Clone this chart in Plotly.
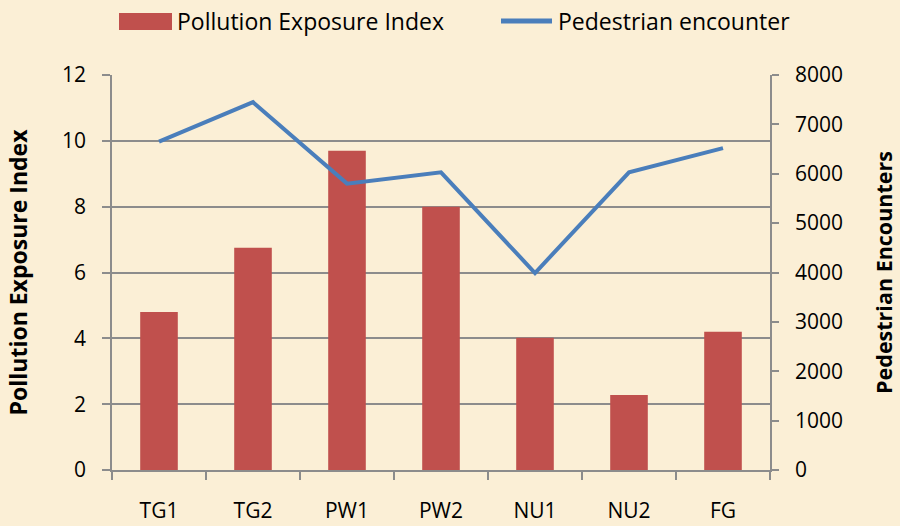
import plotly.graph_objects as go

categories = ["TG1", "TG2", "PW1", "PW2", "NU1", "NU2", "FG"]
pollution_index = [4.8, 6.75, 9.7, 8.0, 4.02, 2.28, 4.2]
pedestrian = [6650, 7450, 5800, 6030, 3990, 6030, 6520]
left_ticks = [0, 2, 4, 6, 8, 10, 12]
right_ticks = [0, 1000, 2000, 3000, 4000, 5000, 6000, 7000, 8000]

FONT = "Open Sans, Noto Sans, Arial"
GRID = "#8c8c8c"
BAR_COLOR = "#c0504d"
LINE_COLOR = "#4a7ebb"

L, R, T, B = 112, 130, 75, 56
W, H = 900, 526
PW, PH = W - L - R, H - T - B


def px(x):
    return (x - L) / PW


def py(y):
    return (H - B - y) / PH


fig = go.Figure()
fig.add_trace(go.Bar(x=categories, y=pollution_index, name="Pollution Exposure Index",
                     marker=dict(color=BAR_COLOR, line=dict(width=0)), yaxis="y"))
fig.add_trace(go.Scatter(x=categories, y=pedestrian, name="Pedestrian encounter",
                         mode="lines", line=dict(color=LINE_COLOR, width=4), yaxis="y2"))

# custom legend (Excel style wide swatches)
fig.add_shape(type="rect", xref="paper", yref="paper", x0=px(119), x1=px(172),
              y0=py(30), y1=py(13), fillcolor=BAR_COLOR, line=dict(width=0))
fig.add_annotation(xref="paper", yref="paper", x=px(175), y=py(21), xanchor="left",
                   yanchor="middle", showarrow=False, text="Pollution Exposure Index",
                   font=dict(size=23))
fig.add_shape(type="line", xref="paper", yref="paper", x0=px(501), x1=px(552),
              y0=py(21), y1=py(21), line=dict(color=LINE_COLOR, width=5))
fig.add_annotation(xref="paper", yref="paper", x=px(556), y=py(21), xanchor="left",
                   yanchor="middle", showarrow=False, text="Pedestrian encounter",
                   font=dict(size=23))

fig.update_layout(
    width=W, height=H,
    margin=dict(l=L, r=R, t=T, b=B, autoexpand=False),
    paper_bgcolor="#fbefd6",
    plot_bgcolor="rgba(0,0,0,0)",
    font=dict(family=FONT, size=21, color="#000"),
    bargap=0.6,
    showlegend=False,
    xaxis=dict(type="category", tickson="boundaries", ticks="outside", ticklen=8,
               tickcolor=GRID, tickwidth=1.5, showline=True, linecolor=GRID, linewidth=1.5,
               showgrid=False, ticklabelstandoff=21, tickfont=dict(size=21), automargin=False),
    yaxis=dict(range=[0, 12], tickvals=left_ticks, showgrid=True, gridcolor=GRID, gridwidth=1.5,
               ticks="outside", ticklen=8, tickcolor=GRID, tickwidth=1.5,
               showline=True, linecolor=GRID, linewidth=1.5, zeroline=False,
               ticklabelstandoff=12, automargin=False,
               title=dict(text="<b>Pollution Exposure Index</b>", font=dict(size=23), standoff=28),
               tickfont=dict(size=21)),
    yaxis2=dict(range=[0, 8000], tickvals=right_ticks, overlaying="y", side="right",
                showgrid=False, ticks="outside", ticklen=7, tickcolor=GRID, tickwidth=1.5,
                showline=True, linecolor=GRID, linewidth=1.5, zeroline=False,
                ticklabelstandoff=12, automargin=False,
                title=dict(text="<b>Pedestrian Encounters</b>", font=dict(size=21.5), standoff=35),
                tickfont=dict(size=21)),
)

fig.write_html("out.html", config={"displayModeBar": False},
               post_script="document.body.style.margin='0';")
